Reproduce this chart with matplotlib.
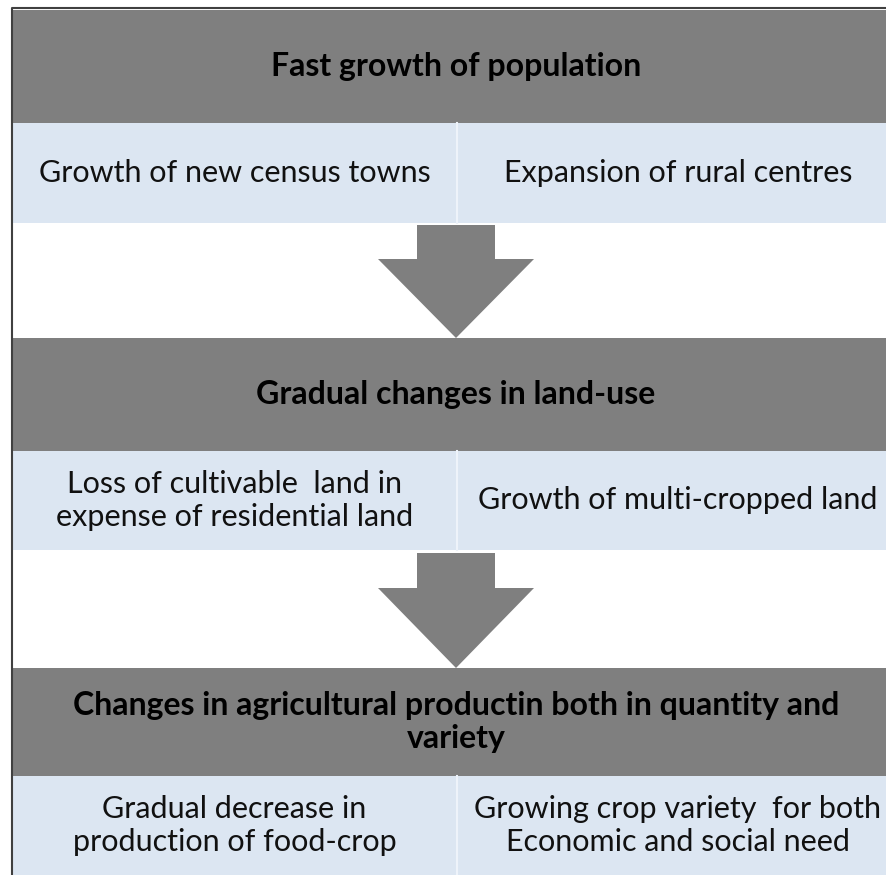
import matplotlib.pyplot as plt
from matplotlib.patches import Rectangle, Polygon

# Texts of the flow chart
headers = [
    "Fast growth of population",
    "Gradual changes in land-use",
    "Changes in agricultural productin both in quantity and\nvariety",
]
left_cells = [
    "Growth of new census towns",
    "Loss of cultivable  land in\nexpense of residential land",
    "Gradual decrease in\nproduction of food-crop",
]
right_cells = [
    "Expansion of rural centres",
    "Growth of multi-cropped land",
    "Growing crop variety  for both\nEconomic and social need",
]

# layout (pixel units)
header_rows = [(10, 123), (338, 451), (668, 776)]
cell_rows = [(123, 223), (451, 550), (776, 875)]
arrows = [(225, 259, 338), (553, 588, 668)]
x0, x1, xmid = 12, 901, 457

gray = "#7f7f7f"
blue = "#dce6f2"

fig = plt.figure(figsize=(8.86, 8.75), dpi=100)
ax = fig.add_axes([0, 0, 1, 1])
ax.set_xlim(0, 886)
ax.set_ylim(875, 0)
ax.axis("off")

plt.rcParams["font.family"] = ["Lato", "DejaVu Sans"]

for i in range(3):
    top, bot = header_rows[i]
    ax.add_patch(Rectangle((x0, top), x1 - x0, bot - top, color=gray, lw=0))
    ax.text(xmid - 1, (top + bot) / 2, headers[i], ha="center", va="center",
            fontsize=23, fontweight="bold", color="black", linespacing=1.13)
    top, bot = cell_rows[i]
    ax.add_patch(Rectangle((x0, top), x1 - x0, bot - top, color=blue, lw=0))
    ax.plot([xmid, xmid], [top, bot], color="#eef3fa", lw=1.5)
    ax.text((x0 + xmid) / 2, (top + bot) / 2, left_cells[i], ha="center",
            va="center", fontsize=22, color="#111111", linespacing=1.21)
    ax.text((xmid + x1) / 2 - 1, (top + bot) / 2, right_cells[i], ha="center",
            va="center", fontsize=22, color="#111111", linespacing=1.21)

for top, base, tip in arrows:
    ax.add_patch(Polygon([(417, top), (495, top), (495, base), (534, base),
                          (456, tip), (378, base), (417, base)],
                         closed=True, color=gray, lw=0))

# outer frame
ax.plot([x0, x0, 886], [875, 8, 8], color="#404040", lw=1.5)

fig.savefig("out.png", dpi=100)
